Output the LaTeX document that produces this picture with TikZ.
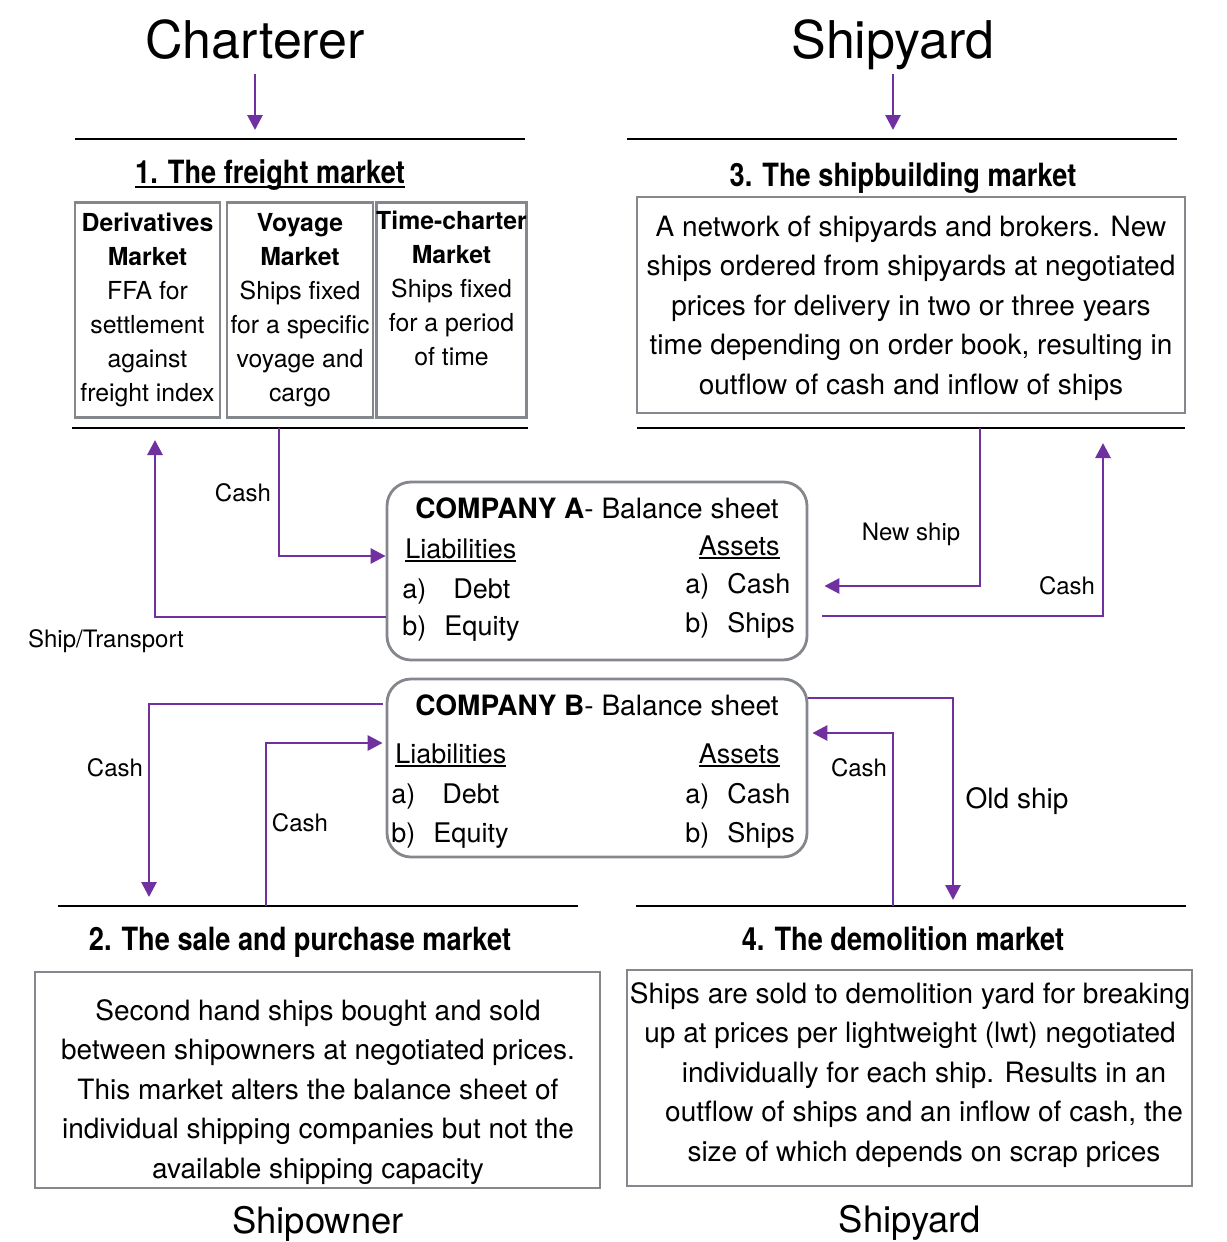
\documentclass[tikz,border=0pt]{standalone}
\usepackage{fontspec}
\setmainfont{TeX Gyre Heros}
\newfontfamily\titlefont{TeX Gyre Heros}[FakeStretch=0.85]
\usetikzlibrary{arrows.meta,positioning}

\definecolor{flowpurple}{RGB}{112,48,160}
\definecolor{boxgray}{RGB}{132,135,139}

% item of a balance sheet: label box, then entry
\newcommand{\bsitem}[3][21pt]{\makebox[#1][l]{#2}#3}
% underline at a fixed depth
\newcommand{\uln}[2][2pt]{\setbox0\hbox{#2}\rlap{\rule[-#1]{\wd0}{0.8pt}}\box0}

\begin{document}
\begin{tikzpicture}[x=0.5pt, y=-0.5pt, node distance=1cm,
    rule/.style={line width=1.4pt, black},
    flow/.style={line width=1.4pt, draw=flowpurple, -{Triangle[length=7.5pt, width=7.5pt]}},
    party/.style={font=\fontsize{26}{30}\selectfont, anchor=base, inner sep=0pt},
    owner/.style={font=\fontsize{18.2}{22}\selectfont, anchor=base, inner sep=0pt},
    section/.style={font=\titlefont\bfseries\fontsize{16}{19}\selectfont, anchor=base, inner sep=0pt},
    subbox/.style={rectangle, draw=boxgray, line width=1.4pt, inner sep=0pt, minimum width=73pt, minimum height=107.5pt, align=center, font=\fontsize{12.4}{17}\selectfont},
    descbox/.style={rectangle, draw=boxgray, line width=1.4pt, inner sep=0pt, minimum width=282.5pt, minimum height=108pt, align=center, font=\fontsize{14}{19.75}\selectfont},
    desctext/.style={inner sep=0pt, align=center, font=\fontsize{14}{19.75}\selectfont},
    company/.style={rectangle, rounded corners=12pt, draw=boxgray, line width=1.4pt, minimum width=210pt, minimum height=89pt},
    sheet/.style={font=\fontsize{13.5}{16}\selectfont, anchor=base west, inner sep=0pt},
    flowlabel/.style={font=\fontsize{12}{14}\selectfont}]

\path[use as bounding box, fill=white] (0,0) rectangle (1226,1242);

% Parties
\node[party] (charterer) at (255,58) {Charterer};
\node[party] (yardtop) at (893,58) {Shipyard};
\coordinate (fmin) at (255,130);
\coordinate (sbin) at (893,130);
\draw[flow] ([yshift=-8pt]charterer.base) -- (fmin);
\draw[flow] ([yshift=-8pt]yardtop.base) -- (sbin);

% 1. Freight market
\draw[rule] (75,139) -- (525,139);
\draw[rule] (72,428) -- (528,428);
\node[section] (fmtitle) at (270,183) {\uln[2.5pt]{1. The freight market}};
\node[subbox, minimum width=72.5pt] (deriv) at (147.5,310) {\textbf{Derivatives}\\\textbf{Market}\\FFA for\\settlement\\against\\freight index};
\node[subbox] (voyage) at (300,310) {\textbf{Voyage}\\\textbf{Market}\\Ships fixed\\for a specific\\voyage and\\cargo};
\node[subbox, minimum width=73.5pt] (timech) at (451.5,310) {\textbf{Time-charter}\\\textbf{Market}\\Ships fixed\\for a period\\of time\\\strut};

% 3. Shipbuilding market
\draw[rule] (627,139) -- (1177,139);
\draw[rule] (637,428) -- (1185,428);
\node[section] (sbtitle) at (903,186) {3. The shipbuilding market};
\node[descbox, minimum width=274pt] (sbdesc) at (911,305) {};
\node[desctext] (sbtext) at (911,308) {A network of shipyards and brokers. New\\ships ordered from shipyards at negotiated\\prices for delivery in two or three years\\time depending on order book, resulting in\\outflow of cash and inflow of ships};

% Company A
\node[company] (compA) at (597,571) {};
\node[font=\fontsize{14}{16}\selectfont, anchor=base, inner sep=0pt] (compAtitle) at (597,518) {\textbf{COMPANY A}- Balance sheet};
\node[sheet] (compAliab) at (405,558) {\uln{Liabilities}};
\node[sheet] (compAdebt) at (402,598) {\bsitem[25.5pt]{a)}{Debt}};
\node[sheet] (compAequity) at (402,635) {\bsitem{b)}{Equity}};
\node[sheet, anchor=base east] (compAassets) at (780,555) {\uln{Assets}};
\node[sheet] (compAcash) at (685,593) {\bsitem{a)}{Cash}};
\node[sheet] (compAships) at (685,632) {\bsitem{b)}{Ships}};

% Company B
\node[company, below of=compA, node distance=98.5pt] (compB) {};
\node[font=\fontsize{14}{16}\selectfont, anchor=base, inner sep=0pt] (compBtitle) at (597,715) {\textbf{COMPANY B}- Balance sheet};
\node[sheet] (compBliab) at (395,763) {\uln{Liabilities}};
\node[sheet] (compBdebt) at (391,803) {\bsitem[25.5pt]{a)}{Debt}};
\node[sheet] (compBequity) at (391,842) {\bsitem{b)}{Equity}};
\node[sheet, anchor=base east] (compBassets) at (780,763) {\uln{Assets}};
\node[sheet] (compBcash) at (685,803) {\bsitem{a)}{Cash}};
\node[sheet] (compBships) at (685,842) {\bsitem{b)}{Ships}};

% 2. Sale and purchase market
\draw[rule] (58,906) -- (578,906);
\node[section] (sptitle) at (300,950) {2. The sale and purchase market};
\node[descbox] (spdesc) at (317.5,1080) {};
\node[desctext] (sptext) at (318,1092) {Second hand ships bought and sold\\between shipowners at negotiated prices.\\This market alters the balance sheet of\\individual shipping companies but not the\\available shipping capacity};
\node[owner] (shipowner) at (318,1233) {Shipowner};

% 4. Demolition market
\draw[rule] (636,906) -- (1186,906);
\node[section] (dmtitle) at (903,950) {4. The demolition market};
\node[descbox] (dmdesc) at (909.5,1078) {};
\node[desctext] (dmtext) at (910,1075) {Ships are sold to demolition yard for breaking\\up at prices per lightweight (lwt) negotiated\\\hspace*{14pt}individually for each ship. Results in an\\\hspace*{14pt}outflow of ships and an inflow of cash, the\\\hspace*{14pt}size of which depends on scrap prices};
\node[owner] (yardbottom) at (910,1232) {Shipyard};

% Flow ends on the market rules
\coordinate (fmcash) at (279,428);
\coordinate (fmship) at (155,440);
\coordinate (sbship) at (980,428);
\coordinate (sbcash) at (1103,443);
\coordinate (spcashin) at (149,897);
\coordinate (spcashout) at (266,906);
\coordinate (dmship) at (953,900);
\coordinate (dmcash) at (893,906);

% Flows
\draw[flow] (fmcash) |- ([yshift=7.5pt]compA.west);
\draw[flow] ([yshift=-23pt]compA.west) -| (fmship);
\draw[flow] (sbship) |- ([xshift=8pt,yshift=-7.5pt]compA.east);
\draw[flow] ([xshift=7pt,yshift=-22.5pt]compA.east) -| (sbcash);
\draw[flow] ([xshift=-1.5pt,yshift=32pt]compB.west) -| (spcashin);
\draw[flow] (spcashout) |- ([xshift=-1.5pt,yshift=12.5pt]compB.west);
\draw[flow] ([yshift=35pt]compB.east) -| (dmship);
\draw[flow] (dmcash) |- ([xshift=2pt,yshift=17.5pt]compB.east);

% Flow labels
\node[flowlabel] (lblfmcash) at (243,493) {Cash};
\node[flowlabel] (lblship) at (106,641) {Ship/Transport};
\node[flowlabel] (lblnewship) at (911,534) {New ship};
\node[flowlabel] (lblsbcash) at (1067,586) {Cash};
\node[flowlabel] (lblspcashin) at (115,768) {Cash};
\node[flowlabel] (lblspcashout) at (300,823) {Cash};
\node[flowlabel] (lbldmcash) at (859,768) {Cash};
\node[flowlabel, font=\fontsize{14}{16}\selectfont] (lbloldship) at (1017,801) {Old ship};

\end{tikzpicture}
\end{document}
